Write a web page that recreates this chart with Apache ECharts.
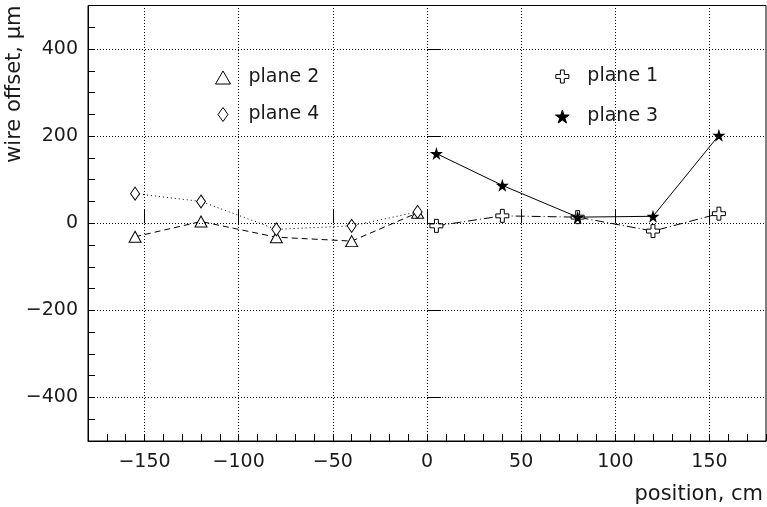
<!DOCTYPE html>
<html><head><meta charset="utf-8">
<script src="https://cdn.jsdelivr.net/npm/echarts@6/dist/echarts.min.js"></script>
<style>html,body{margin:0;padding:0;background:#fff}#c{width:767px;height:507px}</style>
</head><body><div id="c"></div>
<script>
const positionsLeft = [-155, -120, -80, -40, -5];
const plane2 = [-31, 4, -32, -41, 24];
const plane4 = [68, 50, -14, -6, 26];
const positionsRight = [5, 40, 80, 120, 155];
const plane1 = [-6, 17, 14, -18, 22];
const plane3 = [160, 87, 14, 16, 202];
const xTickLabels = [-150, -100, -50, 0, 50, 100, 150];
const yTickLabels = [-400, -200, 0, 200, 400];

const FONT = 'DejaVu Sans';
const TXT = '#1a1a1a';
function fmt(v) { v = Math.round(v); return v < 0 ? '\u2212' + Math.abs(v) : String(v); }
function pairs(xs, ys) { return xs.map((x, i) => [x, ys[i]]); }

const SYM_TRI = 'path://M50,0 L100,87 L0,87 Z';
const SYM_DIA = 'path://M5,0 L10,7 L5,14 L0,7 Z';
const SYM_CROSS = 'path://M35,0 L65,0 L65,35 L100,35 L100,65 L65,65 L65,100 L35,100 L35,65 L0,65 L0,35 L35,35 Z';
const SYM_STAR = 'path://M50,0 L61,35 L98,35 L68,57 L79,91 L50,70 L21,91 L32,57 L2,35 L39,35 Z';

const gridLineStyle = { color: '#000', width: 1, type: [1, 2] };
const gridMarks = xTickLabels.map(v => ({ xAxis: v })).concat(yTickLabels.map(v => ({ yAxis: v })));

const hollow = { color: '#fff', borderColor: '#000', borderWidth: 1 };
const legendText = { fontFamily: FONT, fontSize: 19, color: TXT, padding: [0, 0, 0, 13] };

const chart = echarts.init(document.getElementById('c'), null, { renderer: 'canvas' });
chart.setOption({
  animation: false,
  backgroundColor: '#fff',
  grid: { left: 88, right: 1, top: 5.5, bottom: 66, show: true, borderColor: '#000', borderWidth: 1, backgroundColor: 'transparent' },
  legend: [
    {
      orient: 'vertical', left: 210, top: 63, itemWidth: 15, itemHeight: 14, itemGap: 18,
      data: [{ name: 'plane 2', icon: SYM_TRI }, { name: 'plane 4', icon: SYM_DIA }],
      itemStyle: { borderWidth: 1 },
      textStyle: legendText, selectedMode: false
    },
    {
      orient: 'vertical', left: 550, top: 62, itemWidth: 14, itemHeight: 13, itemGap: 21,
      data: [{ name: 'plane 1', icon: SYM_CROSS }, { name: 'plane 3', icon: SYM_STAR }],
      itemStyle: { borderWidth: 1 },
      textStyle: legendText, selectedMode: false
    }
  ],
  xAxis: [
    {
      type: 'value', min: -180, max: 180, interval: 10, position: 'bottom',
      axisLine: { show: true, onZero: false, lineStyle: { color: '#000', width: 1 } },
      axisTick: { show: true, inside: true, length: 7, lineStyle: { color: '#000' } },
      axisLabel: { customValues: xTickLabels, formatter: fmt, fontFamily: FONT, fontSize: 19, color: TXT, margin: 12 },
      splitLine: { show: false },
      name: 'position, cm', nameLocation: 'end', nameGap: -3,
      nameTextStyle: { fontFamily: FONT, fontSize: 21, color: TXT, align: 'right', verticalAlign: 'top', padding: [43, 0, 0, 0] }
    },
    {
      type: 'value', min: -180, max: 180, interval: 10, position: 'bottom', offset: 0,
      axisLine: { show: false },
      axisTick: { show: true, inside: true, length: 14, customValues: xTickLabels, lineStyle: { color: '#000' } },
      axisLabel: { show: false },
      splitLine: { show: false }
    }
  ],
  yAxis: [
    {
      type: 'value', min: -500, max: 500, interval: 50, position: 'left',
      axisLine: { show: true, onZero: false, lineStyle: { color: '#000', width: 1 } },
      axisTick: { show: true, inside: true, length: 7, lineStyle: { color: '#000' } },
      axisLabel: { customValues: yTickLabels, formatter: fmt, fontFamily: FONT, fontSize: 19, color: TXT, margin: 10 },
      splitLine: { show: false },
      name: 'wire offset, \u03bcm', nameLocation: 'end', nameGap: 0, nameRotate: 90,
      nameTextStyle: { fontFamily: FONT, fontSize: 21, color: TXT, align: 'right', verticalAlign: 'bottom', padding: [0, 0, 63, 0] }
    },
    {
      type: 'value', min: -500, max: 500, interval: 50, position: 'left', offset: 0,
      axisLine: { show: false },
      axisTick: { show: true, inside: true, length: 14, customValues: yTickLabels, lineStyle: { color: '#000' } },
      axisLabel: { show: false },
      splitLine: { show: false }
    }
  ],
  series: [
    {
      name: 'grid', type: 'line', data: [], silent: true,
      markLine: { silent: true, symbol: ['none', 'none'], label: { show: false }, lineStyle: gridLineStyle, data: gridMarks, animation: false }
    },
    {
      name: 'plane 2', type: 'line', data: pairs(positionsLeft, plane2),
      symbol: SYM_TRI, symbolSize: [12, 11], showAllSymbol: true,
      itemStyle: hollow, lineStyle: { color: '#000', width: 1, type: [6, 4] }, z: 3
    },
    {
      name: 'plane 4', type: 'line', data: pairs(positionsLeft, plane4),
      symbol: SYM_DIA, symbolSize: [9, 13], symbolKeepAspect: false, showAllSymbol: true,
      itemStyle: hollow, lineStyle: { color: '#000', width: 1, type: [1, 3] }, z: 3
    },
    {
      name: 'plane 1', type: 'line', data: pairs(positionsRight, plane1),
      symbol: SYM_CROSS, symbolSize: 13, showAllSymbol: true,
      itemStyle: hollow, lineStyle: { color: '#000', width: 1, type: [9, 3, 1, 3] }, z: 3
    },
    {
      name: 'plane 3', type: 'line', data: pairs(positionsRight, plane3),
      symbol: SYM_STAR, symbolSize: 13, showAllSymbol: true,
      itemStyle: { color: '#000', borderColor: '#000', borderWidth: 0 }, lineStyle: { color: '#000', width: 1, type: 'solid' }, z: 4
    }
  ]
});
</script>
</body></html>
